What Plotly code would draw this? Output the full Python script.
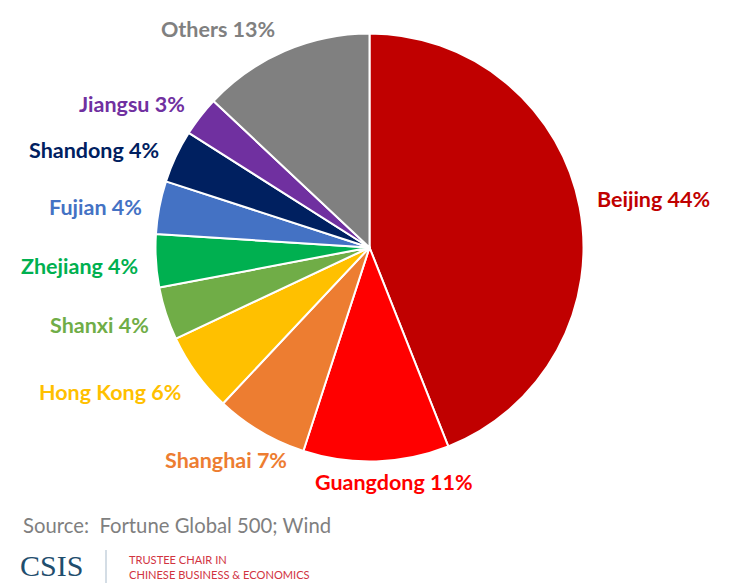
import math
import plotly.graph_objects as go

# ---- data ----
regions = ["Beijing", "Guangdong", "Shanghai", "Hong Kong", "Shanxi",
           "Zhejiang", "Fujian", "Shandong", "Jiangsu", "Others"]
shares = [44, 11, 7, 6, 4, 4, 4, 4, 3, 13]
colors = ["#C00000", "#FF0000", "#ED7D31", "#FFC000", "#70AD47",
          "#00B050", "#4472C4", "#002060", "#7030A0", "#808080"]
source_text = "Source:  Fortune Global 500; Wind"
logo_text = "CSIS"
chair_lines = ["TRUSTEE CHAIR IN", "CHINESE BUSINESS &amp; ECONOMICS"]

# ---- layout constants (pixels) ----
W, H = 733, 583
CX, CY, R = 369.5, 247.5, 214
LABEL_R = 228
FONT = 21.5
LINE_H = 20
PAD = 2

fig = go.Figure(go.Pie(
    labels=regions, values=shares, sort=False, direction="clockwise",
    rotation=0, textinfo="none", hoverinfo="label+percent", showlegend=False,
    marker=dict(colors=colors, line=dict(color="white", width=2)),
    domain=dict(x=[(CX - R) / W, (CX + R) / W],
                y=[1 - (CY + R) / H, 1 - (CY - R) / H]),
))

annotations = []
total = sum(shares)
cum = 0
for name, v, col in zip(regions, shares, colors):
    mid = (cum + v / 2) / total * 2 * math.pi
    cum += v
    s, c = math.sin(mid), math.cos(mid)
    a = abs(s)
    sg = 1 if s >= 0 else -1
    ax = CX + LABEL_R * s
    ay = CY - (LABEL_R + 6 * min(1, 2 * a)) * c - 4 * sg
    ty = ay - math.copysign(LINE_H / 2, c) * c * c
    label = f"{name} {round(v / total * 100)}%"
    if c < 0:
        f = min(1, 0.2 + 0.33 * a + max(0, a - 0.5) * 3.0)
    else:
        f = min(max(a / 0.3, 0), 1)
    if f >= 1:
        xanchor = "left" if sg > 0 else "right"
        x = ax + sg * PAD
    else:
        est_w = len(label) * 0.56 * FONT
        x = ax + sg * (est_w / 2 + PAD) * f
        xanchor = "center"
    annotations.append(dict(
        x=x / W, y=1 - ty / H, xref="paper", yref="paper",
        xanchor=xanchor, yanchor="middle", showarrow=False,
        text=f"<b>{label}</b>",
        font=dict(family="Lato", size=FONT, color=col),
    ))

# footer
annotations.append(dict(
    x=21 / W, y=1 - 525 / H, xref="paper", yref="paper", xanchor="left",
    yanchor="middle", showarrow=False, text=source_text,
    font=dict(family="Lato", size=20.3, color="#7F7F7F")))
annotations.append(dict(
    x=18 / W, y=1 - 565 / H, xref="paper", yref="paper", xanchor="left",
    yanchor="middle", showarrow=False, text=logo_text,
    font=dict(family="Liberation Serif", size=30, color="#1F4E6E")))
for i, line in enumerate(chair_lines):
    annotations.append(dict(
        x=127 / W, y=1 - (559 + 15 * i) / H, xref="paper", yref="paper",
        xanchor="left", yanchor="middle", showarrow=False, text=line,
        font=dict(family="Lato", size=11.1, color="#D1343F")))

fig.update_layout(
    width=W, height=H, margin=dict(l=0, r=0, t=0, b=0),
    paper_bgcolor="white", plot_bgcolor="white",
    annotations=annotations,
    shapes=[dict(type="line", xref="paper", yref="paper",
                 x0=106 / W, x1=106 / W, y0=1 - 550 / H, y1=0,
                 line=dict(color="#A9BBCB", width=1))],
)

fig.write_html("out.html", config={"displayModeBar": False},
               post_script="document.body.style.margin='0';"
                           "document.body.style.overflow='hidden';")
